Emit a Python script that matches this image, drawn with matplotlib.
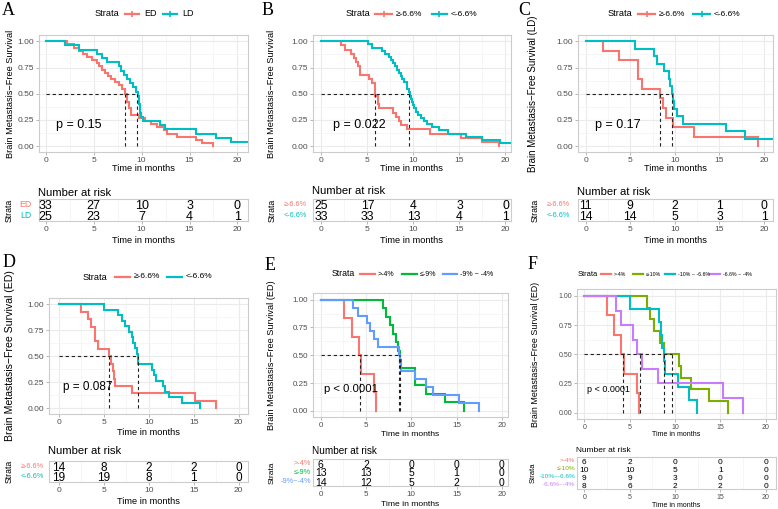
import matplotlib
matplotlib.use("Agg")
import matplotlib.pyplot as plt
from matplotlib.lines import Line2D
from matplotlib.ticker import MultipleLocator

plt.rcParams['font.family'] = ['Liberation Sans', 'DejaVu Sans']

W, H = 778, 509

RED = "#F8766D"
TEAL = "#00BFC4"
GREEN = "#00BA38"
BLUE = "#619CFF"
OLIVE = "#7CAE00"
PURPLE = "#C77CFF"

risk_times = [0, 5, 10, 15, 20]
surv_ticks = [0, 0.25, 0.5, 0.75, 1.0]

# ---- A: ED vs LD
a_ed_t = [0, 2.2, 3.0, 3.5, 3.9, 4.3, 4.8, 5.3, 5.6, 5.9, 6.2, 6.5, 6.8, 7.2, 7.6, 8.0,
          8.3, 8.5, 8.7, 8.9, 9.7, 10.4, 11.0, 11.6, 12.3, 12.6, 13.7, 15.7, 16.3, 17.5]
a_ed_s = [1.00, 0.97, 0.94, 0.91, 0.88, 0.85, 0.82, 0.79, 0.76, 0.73, 0.70, 0.67, 0.64, 0.61, 0.58, 0.55,
          0.50, 0.42, 0.36, 0.30, 0.27, 0.24, 0.21, 0.18, 0.15, 0.12, 0.09, 0.06, 0.03, 0.0]
a_ld_t = [0, 2.0, 3.5, 5.4, 5.9, 6.4, 7.6, 7.9, 8.2, 8.5, 8.8, 9.1, 9.4, 9.6, 9.7, 9.8,
          9.9, 10.1, 11.9, 12.4, 15.7, 17.8, 19.3, 21.5]
a_ld_s = [1, 0.96, 0.92, 0.88, 0.84, 0.80, 0.76, 0.72, 0.68, 0.64, 0.60, 0.56, 0.52, 0.48, 0.40, 0.32,
          0.28, 0.24, 0.20, 0.16, 0.12, 0.08, 0.04, 0.04]
a_medians = [8.3, 9.5]
a_risk = [[33, 27, 10, 3, 0], [25, 23, 7, 4, 1]]
a_labels = ["ED", "LD"]

# ---- B: all patients by change
b_hi_t = [0, 2.1, 2.6, 3.2, 3.5, 3.7, 4.0, 4.2, 5.2, 5.5, 5.85, 6.1, 6.3, 7.8, 8.1, 8.4,
          8.6, 9.3, 11.8, 15.2, 17.5, 19.3]
b_hi_s = [1, 0.96, 0.92, 0.88, 0.84, 0.80, 0.76, 0.68, 0.64, 0.60, 0.48, 0.40, 0.36, 0.32, 0.28, 0.24,
          0.20, 0.16, 0.12, 0.08, 0.04, 0]
b_lo_t = [0, 5.1, 5.5, 6.6, 6.9, 7.3, 7.6, 7.8, 8.0, 8.2, 8.4, 8.6, 8.8, 9.0, 9.3, 9.5, 9.6,
          9.7, 9.8, 9.9, 10.1, 10.3, 10.5, 10.8, 11.1, 11.5, 12.0, 12.8, 13.7, 15.7, 17.4, 19.4, 21.5]
b_lo_s = [1, 0.97, 0.94, 0.91, 0.88, 0.85, 0.82, 0.79, 0.76, 0.73, 0.70, 0.67, 0.64, 0.61, 0.55, 0.52, 0.48,
          0.45, 0.42, 0.39, 0.36, 0.33, 0.30, 0.27, 0.24, 0.21, 0.18, 0.15, 0.12, 0.09, 0.06, 0.03, 0.03]
b_medians = [5.85, 9.55]
b_risk = [[25, 17, 4, 3, 0], [33, 33, 13, 4, 1]]
two_labels = ["\u2265-6.6%", "<-6.6%"]

# ---- C: LD
c_hi_t = [0, 1.9, 3.7, 5.9, 6.3, 8.3, 8.7, 9.0, 9.8, 12.1, 19.3]
c_hi_s = [1, 0.909, 0.818, 0.636, 0.545, 0.455, 0.364, 0.273, 0.182, 0.091, 0]
c_lo_t = [0, 5.5, 7.7, 8.0, 8.8, 9.3, 9.5, 9.7, 9.8, 9.9, 10.2, 10.9, 15.7, 17.9, 21.5]
c_lo_s = [1, 0.929, 0.857, 0.786, 0.714, 0.643, 0.571, 0.500, 0.429, 0.357, 0.286, 0.214, 0.143, 0.071, 0.071]
c_medians = [8.35, 9.7]
c_risk = [[11, 9, 2, 1, 0], [14, 14, 5, 3, 1]]

# ---- D: ED
d_hi_t = [0, 2.5, 3.3, 3.6, 4.0, 4.4, 5.55, 5.8, 6.0, 6.1, 6.3, 8.1, 15.2, 17.5]
d_hi_s = [1, 0.929, 0.857, 0.786, 0.643, 0.571, 0.500, 0.429, 0.357, 0.286, 0.214, 0.143, 0.071, 0]
d_lo_t = [0, 5.05, 6.6, 7.0, 7.4, 7.8, 8.1, 8.3, 8.5, 8.7, 8.85, 10.4, 10.6, 10.8, 11.6, 11.8, 12.3, 13.7, 15.7]
d_lo_s = [1, 0.947, 0.895, 0.842, 0.789, 0.737, 0.684, 0.632, 0.579, 0.526, 0.421, 0.368, 0.316, 0.263,
          0.211, 0.158, 0.105, 0.053, 0]
d_medians = [5.6, 8.85]
d_risk = [[14, 8, 2, 2, 0], [19, 19, 8, 1, 0]]

# ---- E: ED, three groups
e_r_t = [0, 2.55, 3.4, 4.2, 4.5, 5.9, 6.1]
e_r_s = [1, 0.833, 0.667, 0.5, 0.333, 0.167, 0]
e_g_t = [0, 6.9, 7.2, 7.6, 8.0, 8.3, 8.5, 8.7, 8.9, 10.4, 11.6, 13.7, 15.8]
e_g_s = [1, 0.923, 0.846, 0.769, 0.692, 0.615, 0.538, 0.462, 0.385, 0.231, 0.154, 0.077, 0]
e_b_t = [0, 3.6, 4.15, 5.1, 5.45, 5.9, 6.35, 8.6, 8.75, 8.9, 10.4, 11.6, 12.4, 15.3, 17.5]
e_b_s = [1, 0.929, 0.857, 0.786, 0.714, 0.643, 0.571, 0.500, 0.429, 0.357, 0.286, 0.214, 0.143, 0.071, 0]
e_medians = [4.3, 8.75, 8.6]
e_risk = [[6, 2, 0, 0, 0], [13, 13, 5, 1, 0], [14, 12, 5, 2, 0]]
e_legend = [">-4%", "\u2264-9%", "-9% ~ -4%"]
e_table = [">-4%", "\u2264-9%", "-9%~-4%"]

# ---- F: ED, four groups
f_r_t = [0, 2.5, 3.3, 4.1, 4.4, 5.8, 6.05]
f_r_s = [1, 0.833, 0.667, 0.5, 0.333, 0.167, 0]
f_o_t = [0, 6.9, 7.3, 7.7, 8.4, 8.8, 10.5, 10.7, 11.8, 13.8, 15.8]
f_o_s = [1, 0.9, 0.8, 0.7, 0.6, 0.5, 0.4, 0.3, 0.2, 0.1, 0]
f_c_t = [0, 5.05, 8.2, 8.45, 8.6, 8.75, 8.9, 10.3, 11.5, 12.4]
f_c_s = [1, 0.889, 0.778, 0.667, 0.556, 0.444, 0.333, 0.222, 0.111, 0]
f_p_t = [0, 3.45, 4.05, 5.35, 5.85, 6.4, 8.1, 15.3, 17.5]
f_p_s = [1, 0.875, 0.75, 0.625, 0.5, 0.375, 0.25, 0.125, 0]
f_medians = [4.25, 9.7, 8.75, 6.1]
f_risk = [[6, 2, 0, 0, 0], [10, 10, 5, 1, 0], [9, 9, 3, 0, 0], [8, 6, 2, 2, 0]]
f_legend = [">-4%", "\u2264-10%", "-10% ~ -6.6%", "-6.6% ~ -4%"]
f_table = [">-4%", "\u2264-10%", "-10%~-6.6%", "-6.6%~-4%"]

fig = plt.figure(figsize=(W / 100, H / 100), dpi=100)


def fx(x):
    return x / W


def fy(y):
    return 1 - y / H


def box(l, t, r, b):
    return fig.add_axes([l / W, 1 - b / H, (r - l) / W, (b - t) / H])


def frame(ax, tick_fs):
    for sp in ax.spines.values():
        sp.set_color('#CCCCCC')
        sp.set_linewidth(0.8)
    ax.tick_params(labelcolor='#4D4D4D', color='#AAAAAA', labelsize=tick_fs,
                   length=2.5, width=0.6, pad=1.0)
    ax.tick_params(which='minor', length=0)
    ax.set_axisbelow(True)


def panel(p):
    l, t, r, b = p['plot']
    ax = box(l, t, r, b)
    ax.set_xlim(p['xlim'])
    ax.set_ylim(-0.055, 1.06)
    frame(ax, p['tick_fs'])
    ax.set_xticks(risk_times)
    ax.set_yticks(surv_ticks)
    ax.set_yticklabels(["0.00", "0.25", "0.50", "0.75", "1.00"])
    ax.xaxis.set_minor_locator(MultipleLocator(2.5))
    ax.yaxis.set_minor_locator(MultipleLocator(0.125))
    ax.grid(which='major', color='#EBEBEB', lw=0.8)
    ax.grid(which='minor', color='#F3F3F3', lw=0.5)

    for (ct, cs), col in zip(p['curves'], p['colors']):
        ax.step(ct, cs, where='post', color=col, lw=1.5, solid_joinstyle='miter')

    meds = p['medians']
    ax.plot([0, max(meds)], [0.5, 0.5], color='#222222', lw=0.8, ls=(0, (3, 2.5)))
    for m in meds:
        ax.plot([m, m], [0, 0.5], color='#222222', lw=0.8, ls=(0, (3, 2.5)))

    ax.text(p['pxy'][0], p['pxy'][1], p['pval'], fontsize=p['p_fs'], ha='left', va='center')

    cx = (l + r) / 2
    fig.text(fx(cx), fy(p['xlab_y']), "Time in months", fontsize=p['xlab_fs'],
             ha='center', va='baseline')
    fig.text(fx(p['ylab_x']), fy((t + b) / 2), p['ylabel'], fontsize=p['ylab_fs'],
             rotation=90, ha='center', va='center')

    # legend
    ly = p['leg_y']
    fig.text(fx(p['leg_x']), fy(ly), "Strata", fontsize=p['leg_fs'], ha='left', va='center')
    for (x0, x1, xl), lab, col in zip(p['keys'], p['leg_labels'], p['colors']):
        fig.add_artist(Line2D([fx(x0), fx(x1)], [fy(ly), fy(ly)], color=col, lw=1.6,
                              transform=fig.transFigure))
        if p['cross']:
            fig.add_artist(Line2D([fx((x0 + x1) / 2)], [fy(ly)], color=col, marker='+',
                                  ms=4, mew=1.2, transform=fig.transFigure))
        fig.text(fx(xl), fy(ly), lab, fontsize=p['lab_fs'], ha='left', va='center')

    # letter
    fig.text(fx(p['letter_xy'][0]), fy(p['letter_xy'][1]), p['letter'],
             family='Liberation Serif', fontsize=13, ha='left', va='top')

    # risk table
    rl, rt, rr, rb = p['risk']
    n = len(p['table'])
    rax = box(l, rt, r, rb)
    rax.set_xlim(p['xlim'])
    rax.set_ylim(n - 0.5, -0.5)
    frame(rax, p['tick_fs'])
    rax.set_xticks(risk_times)
    rax.set_yticks([])
    rax.xaxis.set_minor_locator(MultipleLocator(2.5))
    rax.grid(axis='x', which='major', color='#EBEBEB', lw=0.8)
    rax.grid(axis='x', which='minor', color='#F3F3F3', lw=0.5)
    for i, row in enumerate(p['table']):
        for tt, v in zip(risk_times, row):
            rax.text(tt, i, str(v), fontsize=p['num_fs'], ha='center', va='center_baseline')
        fig.text(fx(rl), 1 - (rt + (i + 0.5) * (rb - rt) / n) / H, p['table_labels'][i],
                 color=p['colors'][i], fontsize=p['tl_fs'], ha='right', va='center')
    fig.text(fx(l - 1), fy(p['title_y']), "Number at risk", fontsize=p['title_fs'],
             ha='left', va='baseline')
    fig.text(fx(p['strata_x']), fy((rt + rb) / 2), "Strata", fontsize=p['strata_fs'],
             rotation=90, ha='center', va='center')
    fig.text(fx(cx), fy(p['rxlab_y']), "Time in months", fontsize=p['xlab_fs'],
             ha='center', va='baseline')


YL = "Brain Metastasis\u2212Free Survival"

panels = [
    dict(letter="A", letter_xy=(2, 2), plot=(39, 35, 248, 152), xlim=(-0.7, 21.1),
         curves=[(a_ed_t, a_ed_s), (a_ld_t, a_ld_s)], colors=[RED, TEAL], medians=a_medians,
         pval="p = 0.15", pxy=(1.05, 0.2), p_fs=9, xlab_y=171, xlab_fs=6.7, tick_fs=6.0,
         ylabel=YL, ylab_x=11, ylab_fs=6.6,
         leg_y=14, leg_x=95, keys=[(125, 139, 144), (163, 177, 182)], leg_labels=a_labels,
         cross=True, leg_fs=6.7, lab_fs=6.5,
         risk=(32, 199, 248, 221), table=a_risk, table_labels=a_labels, num_fs=9, tl_fs=6.3,
         title_y=196, title_fs=8.1, strata_x=9, strata_fs=6.3, rxlab_y=242.5),
    dict(letter="B", letter_xy=(262, 2), plot=(313, 35, 511, 152), xlim=(-0.92, 20.6),
         curves=[(b_hi_t, b_hi_s), (b_lo_t, b_lo_s)], colors=[RED, TEAL], medians=b_medians,
         pval="p = 0.022", pxy=(1.2, 0.2), p_fs=9, xlab_y=171, xlab_fs=6.7, tick_fs=6.0,
         ylabel=YL, ylab_x=271, ylab_fs=6.6,
         leg_y=14, leg_x=346, keys=[(375, 392, 396), (432, 447, 451)], leg_labels=two_labels,
         cross=True, leg_fs=6.7, lab_fs=6.0,
         risk=(307, 199, 511, 221), table=b_risk, table_labels=two_labels, num_fs=8.8, tl_fs=5.2,
         title_y=194, title_fs=8.1, strata_x=272, strata_fs=6.3, rxlab_y=242.5),
    dict(letter="C", letter_xy=(518, 2), plot=(578, 35, 773, 152), xlim=(-0.86, 21.0),
         curves=[(c_hi_t, c_hi_s), (c_lo_t, c_lo_s)], colors=[RED, TEAL], medians=c_medians,
         pval="p = 0.17", pxy=(1.1, 0.2), p_fs=9, xlab_y=171, xlab_fs=6.7, tick_fs=6.0,
         ylabel=YL + " (LD)", ylab_x=533, ylab_fs=7.0,
         leg_y=14, leg_x=608, keys=[(638, 655, 659), (693, 710, 714)], leg_labels=two_labels,
         cross=True, leg_fs=6.7, lab_fs=6.0,
         risk=(570, 199, 773, 221), table=c_risk, table_labels=two_labels, num_fs=8.8, tl_fs=5.2,
         title_y=195, title_fs=8.1, strata_x=535, strata_fs=6.3, rxlab_y=242.5),
    dict(letter="D", letter_xy=(3, 254), plot=(49, 298, 248, 414), xlim=(-1.07, 21.04),
         curves=[(d_hi_t, d_hi_s), (d_lo_t, d_lo_s)], colors=[RED, TEAL], medians=d_medians,
         pval="p = 0.087", pxy=(0.45, 0.2), p_fs=8.5, xlab_y=435, xlab_fs=6.7, tick_fs=6.0,
         ylabel=YL + " (ED)", ylab_x=10, ylab_fs=7.6,
         leg_y=277, leg_x=83, keys=[(115, 130, 134), (167, 182, 186)], leg_labels=two_labels,
         cross=False, leg_fs=6.7, lab_fs=6.0,
         risk=(44, 461, 248, 482), table=d_risk, table_labels=two_labels, num_fs=8.5, tl_fs=5.2,
         title_y=454, title_fs=8.1, strata_x=9, strata_fs=6.3, rxlab_y=504),
    dict(letter="E", letter_xy=(265, 257), plot=(313, 293, 508, 417), xlim=(-0.85, 20.67),
         curves=[(e_r_t, e_r_s), (e_g_t, e_g_s), (e_b_t, e_b_s)], colors=[RED, GREEN, BLUE],
         medians=e_medians, pval="p < 0.0001", pxy=(0.4, 0.2), p_fs=8.2, xlab_y=436,
         xlab_fs=6.1, tick_fs=5.8,
         ylabel=YL + " (ED)", ylab_x=272, ylab_fs=6.6,
         leg_y=274, leg_x=332, keys=[(360, 375, 378), (402, 417, 420), (443, 457, 460)],
         leg_labels=e_legend, cross=False, leg_fs=6.3, lab_fs=5.0,
         risk=(311, 459, 508, 486), table=e_risk, table_labels=e_table, num_fs=7.5, tl_fs=5.3,
         title_y=454, title_fs=7.2, strata_x=272, strata_fs=6.0, rxlab_y=506.5),
    dict(letter="F", letter_xy=(528, 256), plot=(577, 289, 776, 419), xlim=(-0.81, 21.15),
         curves=[(f_r_t, f_r_s), (f_o_t, f_o_s), (f_c_t, f_c_s), (f_p_t, f_p_s)],
         colors=[RED, OLIVE, TEAL, PURPLE], medians=f_medians, pval="p < 0.0001",
         pxy=(0.3, 0.2), p_fs=6.5, xlab_y=436, xlab_fs=5.0, tick_fs=5.0,
         ylabel=YL + " (ED)", ylab_x=535, ylab_fs=6.4,
         leg_y=274, leg_x=578, keys=[(601, 611, 614), (633, 643, 646), (665, 675, 678), (710, 720, 723)],
         leg_labels=f_legend, cross=False, leg_fs=5.4, lab_fs=3.8,
         risk=(575, 457, 776, 489), table=f_risk, table_labels=f_table, num_fs=6.0, tl_fs=4.6,
         title_y=452, title_fs=6.0, strata_x=533, strata_fs=5.5, rxlab_y=507),
]

for p in panels:
    panel(p)

fig.savefig("out.png", dpi=100)
